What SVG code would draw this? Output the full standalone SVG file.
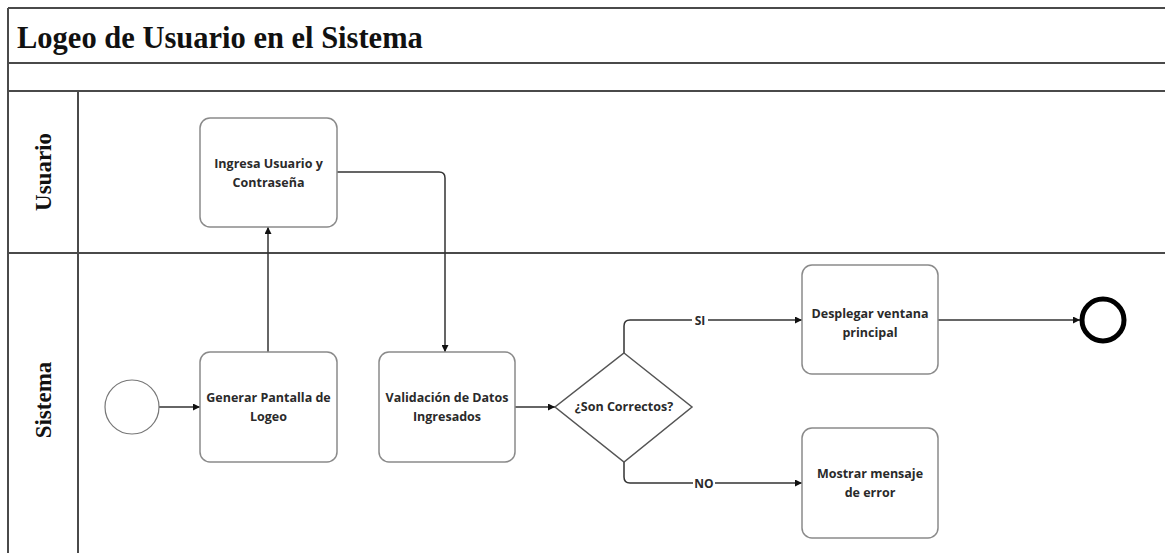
<svg xmlns="http://www.w3.org/2000/svg" width="1165" height="553" viewBox="0 0 1165 553">
  <style>
    .frame { stroke: #4a4a4a; stroke-width: 2; fill: none; }
    .task { fill: #ffffff; stroke: #8a8a8a; stroke-width: 1.5; }
    .task-label { font-family: "Open Sans", "Liberation Sans", sans-serif; font-weight: 700; font-size: 12.5px; fill: #2a2a2a; text-anchor: middle; }
    .lane-label { font-family: "Liberation Serif", serif; font-weight: 700; font-size: 23px; fill: #111; text-anchor: middle; }
    .flow { stroke: #333; stroke-width: 1.5; fill: none; marker-end: url(#arrow); }
    .flow-label { font-family: "Open Sans", "Liberation Sans", sans-serif; font-weight: 700; font-size: 12px; fill: #2a2a2a; text-anchor: middle; }
  </style>
  <defs>
    <marker id="arrow" viewBox="0 0 10 10" refX="10" refY="5" markerWidth="7" markerHeight="7" markerUnits="userSpaceOnUse" orient="auto">
      <path d="M0,0 L10,5 L0,10 z" fill="#111"/>
    </marker>
  </defs>

  <rect width="1165" height="553" fill="#ffffff"/>

  <!-- pool frame and lanes -->
  <g id="pool">
    <line class="frame" x1="8" y1="8" x2="1165" y2="8"/>
    <line class="frame" x1="8" y1="8" x2="8" y2="553"/>
    <line class="frame" x1="8" y1="63" x2="1165" y2="63"/>
    <line class="frame" x1="8" y1="91" x2="1165" y2="91"/>
    <line class="frame" x1="8" y1="253" x2="1165" y2="253"/>
    <line class="frame" x1="78" y1="91" x2="78" y2="553"/>
    <text x="17" y="48" font-family="Liberation Serif, serif" font-weight="700" font-size="30.5" fill="#111">Logeo de Usuario en el Sistema</text>
  </g>
  <g id="lane-usuario">
    <text class="lane-label" transform="translate(51,172) rotate(-90)">Usuario</text>
  </g>
  <g id="lane-sistema">
    <text class="lane-label" transform="translate(51,400) rotate(-90)">Sistema</text>
  </g>

  <!-- connectors -->
  <g id="connectors">
    <path class="flow" d="M159,407 H200"/>
    <path class="flow" d="M268,352 V227"/>
    <path class="flow" d="M337,172 H439 Q445,172 445,178 V352"/>
    <path class="flow" d="M515,407 H555"/>
    <path class="flow" d="M624,353 V326 Q624,320 630,320 H802"/>
    <path class="flow" d="M624,462 V477 Q624,483 630,483 H802"/>
    <path class="flow" d="M938,320 H1080"/>
    <rect x="692" y="313" width="16" height="14" fill="#fff"/>
    <text class="flow-label" x="700" y="324.5">SI</text>
    <rect x="693" y="476" width="22" height="14" fill="#fff"/>
    <text class="flow-label" x="704" y="487.5">NO</text>
  </g>

  <!-- nodes -->
  <g id="start">
    <circle cx="132" cy="407" r="27" fill="#fff" stroke="#777" stroke-width="1.2"/>
  </g>
  <g id="ingresa">
    <rect class="task" x="200" y="118" width="137" height="109" rx="10"/>
    <text class="task-label" x="268.5" y="168">Ingresa Usuario y</text>
    <text class="task-label" x="268.5" y="187">Contraseña</text>
  </g>
  <g id="generar">
    <rect class="task" x="200" y="352" width="137" height="110" rx="10"/>
    <text class="task-label" x="268.5" y="402">Generar Pantalla de</text>
    <text class="task-label" x="268.5" y="421">Logeo</text>
  </g>
  <g id="validacion">
    <rect class="task" x="379" y="352" width="136" height="110" rx="10"/>
    <text class="task-label" x="447" y="402">Validación de Datos</text>
    <text class="task-label" x="447" y="421">Ingresados</text>
  </g>
  <g id="decision">
    <polygon points="624,353 692,407 624,462 555,407" fill="#fff" stroke="#555" stroke-width="1.5"/>
    <text class="task-label" x="624" y="411">¿Son Correctos?</text>
  </g>
  <g id="desplegar">
    <rect class="task" x="802" y="265" width="136" height="109" rx="10"/>
    <text class="task-label" x="870" y="318">Desplegar ventana</text>
    <text class="task-label" x="870" y="337">principal</text>
  </g>
  <g id="mostrar">
    <rect class="task" x="802" y="428" width="136" height="110" rx="10"/>
    <text class="task-label" x="870" y="478">Mostrar mensaje</text>
    <text class="task-label" x="870" y="497">de error</text>
  </g>
  <g id="end">
    <circle cx="1103" cy="320" r="21" fill="#fff" stroke="#000" stroke-width="5"/>
  </g>
</svg>
